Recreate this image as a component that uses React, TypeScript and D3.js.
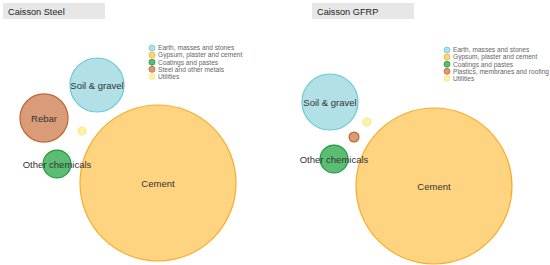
import React from "react";
import * as d3 from "d3";

const panelTitles = ["Caisson Steel", "Caisson GFRP"];
const legendSteel = ["Earth, masses and stones", "Gypsum, plaster and cement", "Coatings and pastes", "Steel and other metals", "Utilities"];
const legendGFRP = ["Earth, masses and stones", "Gypsum, plaster and cement", "Coatings and pastes", "Plastics, membranes and roofing", "Utilities"];

// bubble data: category index, label, x, y (layout units), value
const steelLabels = ["Soil & gravel", "Cement", "Other chemicals", "Rebar", ""];
const steelCats = [0, 1, 2, 3, 4];
const steelX = [97, 158, 57, 44, 82];
const steelY = [85, 183, 164, 118, 131];
const steelValues = [12.0, 100, 3.2, 9.5, 0.26];

const gfrpLabels = ["Soil & gravel", "Cement", "Other chemicals", "", ""];
const gfrpCats = [0, 1, 2, 3, 4];
const gfrpX = [55, 159, 59, 79, 92];
const gfrpY = [102, 186, 159, 137, 122];
const gfrpValues = [12.9, 100, 3.2, 0.4, 0.26];

const fills = ["#b1e1e6", "#fed480", "#5bbd74", "#da9c78", "#fdf3a4"];
const strokes = ["#6cc9d2", "#f8ac2b", "#1f9a3c", "#c0652f", "#f8e98a"];

const W = 550, H = 265;
const font = "'Liberation Sans', Arial, sans-serif";

function Panel({ offset, title, titleX, legend, legendX, legendY, labels, cats, xs, ys, values }: any) {
  const x = d3.scaleLinear().domain([0, 275]).range([offset, offset + 275]);
  const y = d3.scaleLinear().domain([0, 265]).range([0, 265]);
  const r = d3.scaleSqrt().domain([0, 100]).range([0, 78]);
  const order = d3.range(values.length).sort((a, b) => values[b] - values[a]);
  return (
    <g>
      <rect x={x(titleX)} y={3} width={102} height={16} fill="#e7e7e7" />
      <text x={x(titleX) + 5} y={15} fontSize={9.2} fontFamily={font} fill="#222">{title}</text>
      {legend.map((t: string, i: number) => (
        <g key={i}>
          <circle cx={x(legendX)} cy={legendY + i * 7.1} r={3} fill={fills[i]} stroke={strokes[i]} strokeWidth={0.8} />
          <text x={x(legendX) + 6} y={legendY + i * 7.1 + 2.3} fontSize={6.6} fontFamily={font} fill="#666">{t}</text>
        </g>
      ))}
      {order.map((i: number) => (
        <circle key={"c" + i} cx={x(xs[i])} cy={y(ys[i])} r={r(values[i])} fill={fills[cats[i]]} stroke={strokes[cats[i]]} strokeWidth={1.2} />
      ))}
      {order.map((i: number) => labels[i] ? (
        <text key={"t" + i} x={x(xs[i])} y={y(ys[i]) + 3.5} textAnchor="middle" fontSize={9.5} fontFamily={font} fill="#333">{labels[i]}</text>
      ) : null)}
    </g>
  );
}

export default function App() {
  return (
    <svg width={W} height={H} style={{ position: "absolute", left: 0, top: 0, background: "#fff" }}>
      <rect width={W} height={H} fill="#fff" />
      <Panel offset={0} title={panelTitles[0]} titleX={3} legend={legendSteel} legendX={152} legendY={48}
        labels={steelLabels} cats={steelCats} xs={steelX} ys={steelY} values={steelValues} />
      <Panel offset={275} title={panelTitles[1]} titleX={37} legend={legendGFRP} legendX={172} legendY={50}
        labels={gfrpLabels} cats={gfrpCats} xs={gfrpX} ys={gfrpY} values={gfrpValues} />
    </svg>
  );
}
